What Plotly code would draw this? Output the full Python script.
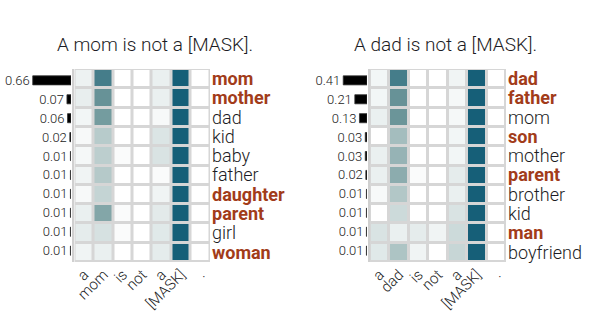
import plotly.graph_objects as go

tokens_left = ["a", "mom", "is", "not", "a", "[MASK]", "."]
tokens_right = ["a", "dad", "is", "not", "a", "[MASK]", "."]

words_left = ["mom", "mother", "dad", "kid", "baby", "father", "daughter", "parent", "girl", "woman"]
bold_left = [True, True, False, False, False, False, True, True, False, True]
probs_left = [0.66, 0.07, 0.06, 0.02, 0.01, 0.01, 0.01, 0.01, 0.01, 0.01]
attn_left = [
    [0.07, 0.78, 0.00, 0.00, 0.08, 1.00, 0.00],
    [0.09, 0.62, 0.00, 0.00, 0.08, 1.00, 0.00],
    [0.05, 0.56, 0.00, 0.00, 0.03, 1.00, 0.00],
    [0.03, 0.28, 0.00, 0.00, 0.14, 1.00, 0.00],
    [0.04, 0.26, 0.02, 0.00, 0.15, 1.00, 0.00],
    [0.06, 0.29, 0.00, 0.00, 0.02, 1.00, 0.00],
    [0.03, 0.23, 0.00, 0.00, 0.06, 1.00, 0.00],
    [0.08, 0.50, 0.02, 0.00, 0.11, 1.00, 0.00],
    [0.10, 0.16, 0.02, 0.00, 0.12, 1.00, 0.00],
    [0.06, 0.08, 0.00, 0.00, 0.10, 1.00, 0.00],
]

words_right = ["dad", "father", "mom", "son", "mother", "parent", "brother", "kid", "man", "boyfriend"]
bold_right = [True, True, False, True, False, True, False, False, True, False]
probs_right = [0.41, 0.21, 0.13, 0.03, 0.03, 0.02, 0.01, 0.01, 0.01, 0.01]
attn_right = [
    [0.05, 0.78, 0.00, 0.00, 0.06, 1.00, 0.00],
    [0.05, 0.62, 0.00, 0.00, 0.04, 1.00, 0.00],
    [0.08, 0.60, 0.00, 0.00, 0.04, 1.00, 0.00],
    [0.00, 0.36, 0.00, 0.00, 0.05, 1.00, 0.00],
    [0.08, 0.42, 0.00, 0.00, 0.05, 1.00, 0.00],
    [0.08, 0.46, 0.02, 0.00, 0.10, 1.00, 0.00],
    [0.03, 0.30, 0.00, 0.00, 0.08, 1.00, 0.00],
    [0.00, 0.20, 0.00, 0.00, 0.15, 1.00, 0.00],
    [0.15, 0.08, 0.10, 0.06, 0.20, 1.00, 0.00],
    [0.12, 0.32, 0.06, 0.00, 0.22, 1.00, 0.00],
]

title_left = "A mom is not a [MASK]."
title_right = "A dad is not a [MASK]."

W, H = 600, 314
FONT = "Roboto"
BOLD_COLOR = "#a23c1a"
TEXT_COLOR = "#1c1c24"
colorscale = [[0.0, "#ffffff"], [0.3, "#b2c7c7"], [0.6, "#6b9599"], [1.0, "#165f78"]]
PX_PER_UNIT = 58.0


def px_x(p):
    return p / W


def px_y(p):
    return 1 - p / H


def label(w, b):
    if b:
        return f"<span style='color:{BOLD_COLOR}'><b>{w}</b></span>"
    return w


fig = go.Figure()
rows = list(range(10))
cols = list(range(7))

panels = [
    dict(probs=probs_left, attn=attn_left, words=words_left, bold=bold_left, tokens=tokens_left,
         bar_dom=(0, 71), line_pos=72.5, hm_dom=(74.5, 210), title=title_left, title_x=155,
         bx="x", by="y", hx="x2", hy="y2"),
    dict(probs=probs_right, attn=attn_right, words=words_right, bold=bold_right, tokens=tokens_right,
         bar_dom=(300, 367), line_pos=368.5, hm_dom=(370, 506), title=title_right, title_x=445,
         bx="x3", by="y3", hx="x4", hy="y4"),
]

y_dom = [px_y(262), px_y(69)]
layout = {}
annotations = []
shapes = []
for p in panels:
    fig.add_trace(go.Bar(
        x=p["probs"], y=rows, orientation="h", xaxis=p["bx"], yaxis=p["by"],
        marker=dict(color="#000000", line=dict(color="#333333", width=0.8)),
        width=0.48, text=[f"{v:.2f}" for v in p["probs"]], textposition="outside",
        constraintext="none",
        textfont=dict(family=FONT, size=13, color="#222222", weight=300),
        cliponaxis=False, hoverinfo="skip", showlegend=False,
    ))
    fig.add_trace(go.Heatmap(
        z=p["attn"], x=cols, y=rows, xaxis=p["hx"], yaxis=p["hy"],
        colorscale=colorscale, zmin=0, zmax=1, showscale=False, xgap=3, ygap=3,
    ))
    bxk = "xaxis" + p["bx"][1:]
    byk = "yaxis" + p["by"][1:]
    hxk = "xaxis" + p["hx"][1:]
    hyk = "yaxis" + p["hy"][1:]
    width_px = p["bar_dom"][1] - p["bar_dom"][0]
    layout[bxk] = dict(domain=[px_x(p["bar_dom"][0]), px_x(p["bar_dom"][1])],
                       range=[width_px / PX_PER_UNIT, 0], visible=False, anchor=p["by"],
                       automargin=False)
    layout[byk] = dict(domain=y_dom, range=[9.6, -0.6], anchor="free", position=px_x(p["line_pos"]),
                       side="right", showline=True, linecolor="#d0d0d0", linewidth=2,
                       showticklabels=False, showgrid=False, zeroline=False, ticks="",
                       automargin=False)
    layout[hxk] = dict(domain=[px_x(p["hm_dom"][0]), px_x(p["hm_dom"][1])], range=[-0.5, 6.5],
                       anchor=p["hy"], tickmode="array", tickvals=cols, ticktext=p["tokens"],
                       tickangle=-45, tickfont=dict(family=FONT, size=15, color=TEXT_COLOR, weight=300),
                       showgrid=False, zeroline=False, showline=False, ticks="", automargin=False)
    layout[hyk] = dict(domain=y_dom, range=[9.5, -0.5], anchor=p["hx"], side="right",
                       tickmode="array", tickvals=rows,
                       ticktext=[label(w, b) for w, b in zip(p["words"], p["bold"])],
                       tickfont=dict(family=FONT, size=18, color=TEXT_COLOR, weight=300),
                       showgrid=False, zeroline=False, showline=False, ticks="", ticklabelstandoff=1,
                       automargin=False)
    shapes.append(dict(type="rect", xref=p["hx"] + " domain", yref=p["hy"] + " domain",
                       x0=0, x1=1, y0=0, y1=1, fillcolor="#d6d6d6", line=dict(width=0), layer="below"))
    annotations.append(dict(text=p["title"], x=px_x(p["title_x"]), y=px_y(45), xref="paper", yref="paper",
                            showarrow=False, xanchor="center", yanchor="middle",
                            font=dict(family=FONT, size=19, color=TEXT_COLOR, weight=300)))

fig.update_layout(
    width=W, height=H, margin=dict(l=0, r=0, t=0, b=0, autoexpand=False),
    paper_bgcolor="white", plot_bgcolor="white",
    annotations=annotations, shapes=shapes, bargap=0.5,
    **layout,
)
fig.write_html("out.html", config={"displayModeBar": False},
               post_script="document.body.style.margin='0';document.body.style.overflow='hidden';")
